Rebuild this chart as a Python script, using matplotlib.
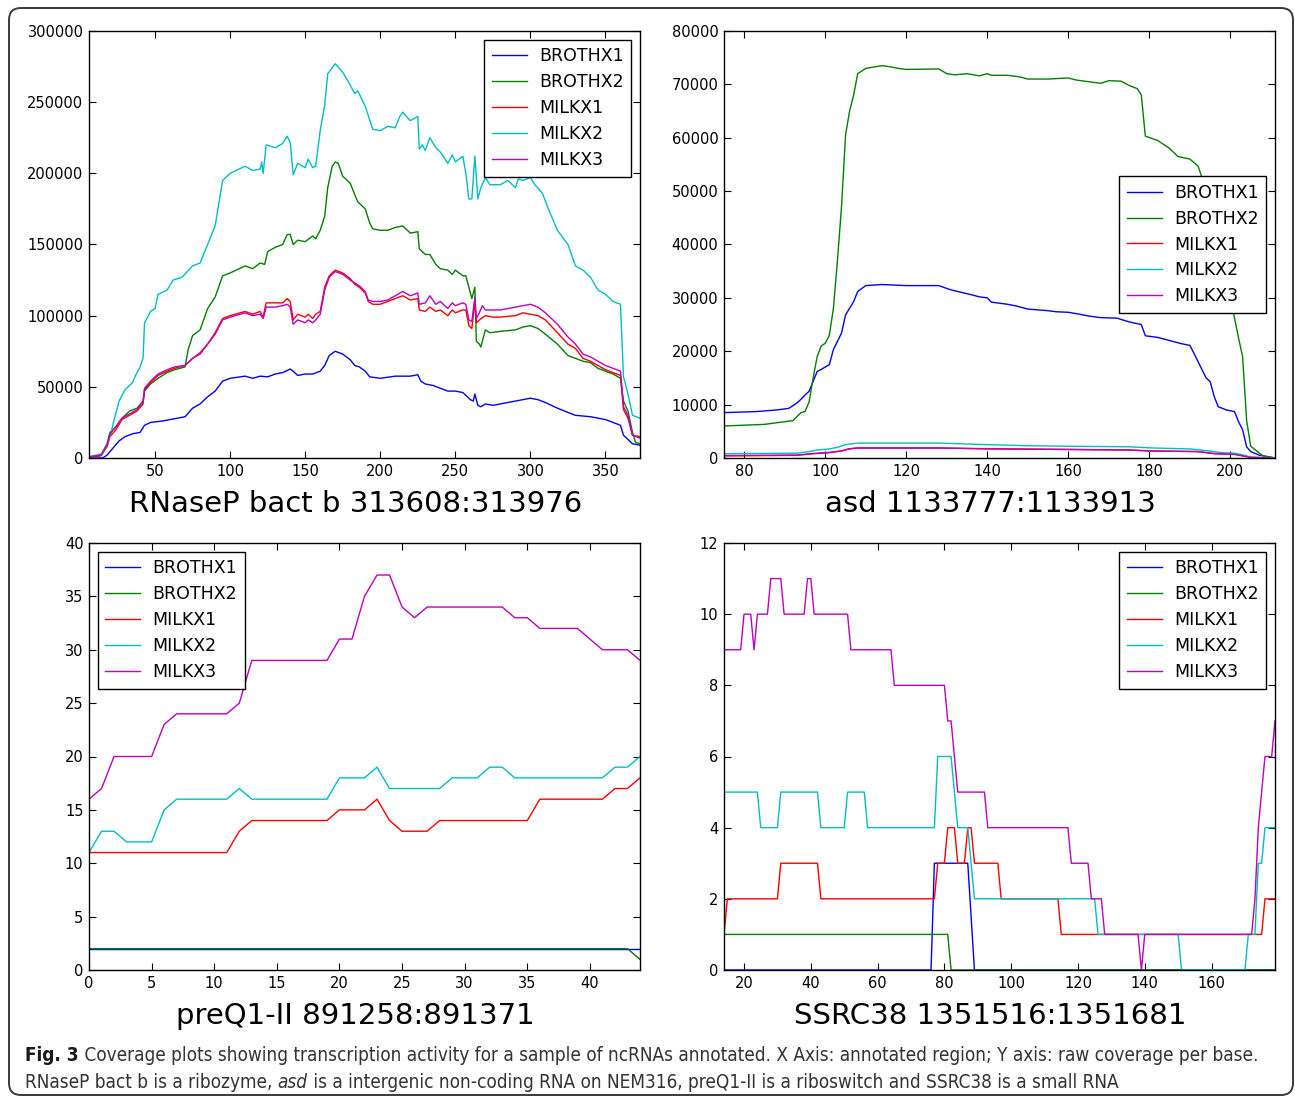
import matplotlib
matplotlib.use("Agg")
import matplotlib.pyplot as plt
from matplotlib import font_manager
from matplotlib.patches import FancyBboxPatch
from matplotlib.transforms import IdentityTransform

W, H, DPI = 1295, 1098, 100

SERIES = ["BROTHX1", "BROTHX2", "MILKX1", "MILKX2", "MILKX3"]
COLORS = ["#0000ff", "#008000", "#ff0000", "#00bfbf", "#bf00bf"]

# ---------------- RNaseP bact b 313608:313976 ----------------
rnasep_brothx1_x = [6,15,18,22,26,30,35,40,43,47,55,60,65,70,75,80,85,90,95,100,110,115,120,125,130,135,140,142,145,150,
                    155,160,163,166,170,175,180,183,186,190,193,200,210,220,225,227,230,235,240,245,250,255,258,260,262,263,
                    265,267,270,275,280,290,295,300,305,310,318,325,330,340,350,355,360,362,365,368,373]
rnasep_brothx1_y = [0,0,2000,7000,12000,15000,17000,18000,23000,25000,26000,27000,28000,29000,35000,38000,43000,47000,54000,56000,
                    57500,56000,57500,57000,59000,60000,62500,61000,58000,59000,59000,61000,65000,72000,75000,73000,69000,65000,64000,61000,
                    57000,56000,57500,57500,58500,54000,52000,51000,49000,47000,47000,46000,43000,41000,40000,45000,37000,36000,38000,37000,
                    38000,40000,41000,42000,41000,39000,35000,32000,30000,29000,27000,25000,23000,16000,13000,10000,9000]
rnasep_brothx2_x = [6,14,18,20,24,28,33,38,42,43,47,52,58,63,70,72,75,80,85,90,95,100,110,115,120,123,125,130,135,138,
                    140,142,145,150,155,157,160,163,165,168,170,172,175,180,183,185,190,193,195,200,205,210,215,220,225,226,230,233,237,240,
                    245,248,250,255,257,259,261,263,264,266,267,270,273,280,290,295,300,305,310,318,325,330,335,340,345,350,355,360,362,365,
                    368,370,373]
rnasep_brothx2_y = [500,2000,10000,18000,22000,28000,33000,35000,40000,47000,52000,56000,60000,62000,64000,76000,86000,90000,105000,113000,
                    128000,130000,135000,133000,137000,136000,145000,148000,150000,157000,157000,150000,153000,152000,156000,154000,160000,170000,190000,205000,
                    208000,207000,198000,193000,185000,180000,175000,165000,161000,160000,160000,162000,163000,158000,159000,147000,143000,143000,136000,133000,
                    132000,129000,132000,128000,128000,120000,112000,120000,82000,80000,78000,90000,88000,89000,90000,92000,93000,91000,87000,80000,
                    72000,70000,68000,67000,63000,61000,59000,56000,40000,33000,18000,11000,10000]
rnasep_milkx1_x = [6,14,18,20,24,28,33,38,42,43,47,52,58,63,70,75,80,85,90,95,100,110,115,120,122,124,130,135,138,140,
                   142,145,150,152,155,157,160,163,166,170,175,180,183,186,190,192,195,200,205,210,215,220,225,226,230,233,237,240,245,248,
                   250,255,257,259,261,263,264,266,270,275,280,290,295,300,305,310,318,325,330,335,340,345,350,355,360,362,365,368,373]
rnasep_milkx1_y = [500,1500,8000,15000,20000,27000,30000,33000,38000,48000,53000,58000,61000,63000,65000,70000,74000,80000,88000,98000,
                   100000,103000,101000,103000,99000,109000,109000,109000,112000,110000,97000,101000,99000,101000,98000,101000,103000,120000,128000,132000,
                   130000,126000,122000,120000,116000,110000,108000,108000,110000,112000,114000,111000,112000,104000,103000,106000,103000,104000,100000,104000,
                   102000,104000,104000,93000,91000,110000,95000,97000,100000,99000,99000,100000,102000,101000,100000,97000,88000,80000,77000,70000,
                   68000,65000,62000,60000,58000,34000,28000,16000,15000]
rnasep_milkx2_x = [6,15,20,23,26,30,35,37,40,42,43,47,50,52,58,62,68,75,80,85,90,95,100,110,115,120,121,122,124,130,
                   135,138,140,142,145,150,152,155,157,160,163,165,170,175,180,183,185,190,195,200,205,210,213,215,220,225,226,228,230,233,
                   237,240,245,248,250,255,257,259,261,263,265,267,270,273,280,285,290,292,295,300,303,308,312,318,325,330,335,340,345,350,
                   355,360,362,365,368,373]
rnasep_milkx2_y = [1000,3000,15000,28000,40000,48000,53000,58000,64000,70000,95000,103000,105000,115000,118000,125000,127000,135000,137000,150000,
                   163000,195000,200000,205000,202000,203000,208000,200000,220000,218000,221000,226000,222000,199000,207000,204000,210000,204000,205000,230000,
                   248000,270000,277000,271000,262000,256000,258000,247000,231000,230000,233000,232000,240000,243000,237000,240000,217000,220000,216000,225000,
                   218000,215000,207000,213000,208000,212000,200000,182000,182000,212000,182000,190000,197000,192000,192000,195000,190000,196000,195000,197000,
                   192000,186000,175000,160000,150000,135000,132000,127000,118000,115000,110000,108000,57000,45000,30000,28000]
rnasep_milkx3_x = [6,14,18,20,24,28,33,38,42,43,47,52,58,63,70,75,80,85,90,95,100,110,115,120,122,124,130,135,138,140,
                   142,145,150,152,155,157,160,163,166,170,175,180,183,186,190,192,195,200,205,210,215,220,225,226,230,233,237,240,245,248,
                   250,255,257,259,261,263,264,266,268,270,280,290,295,300,305,310,318,325,330,335,340,345,350,355,360,362,365,368,373]
rnasep_milkx3_y = [800,2000,9000,17000,22000,28000,31000,34000,39000,49000,54000,59000,62000,64000,65000,70000,73000,80000,87000,97000,
                   99000,102000,100000,101000,98000,106000,106000,107000,108000,106000,94000,97000,95000,97000,95000,97000,101000,118000,127000,131000,
                   129000,125000,123000,121000,117000,111000,110000,110000,111000,114000,117000,114000,116000,108000,109000,114000,108000,110000,105000,109000,
                   107000,109000,108000,97000,96000,113000,98000,102000,107000,104000,104000,106000,107000,108000,106000,102000,94000,85000,80000,73000,
                   71000,68000,65000,63000,61000,36000,30000,16000,14000]

# ---------------- asd 1133777:1133913 ----------------
asd_brothx1_x = [75,83,88,91,93,94,95,96,98,99,101,102,104,105,107,108,110,114,120,128,131,136,138,140,141,145,147,150,155,157,
                 160,163,165,168,172,175,178,179,182,185,188,190,191,194,195,196,197,199,201,202,203,204,205,207,211]
asd_brothx1_y = [8500,8700,9000,9300,10300,11000,11800,12500,16200,16600,17500,20300,23400,26800,29300,31200,32300,32500,32300,32300,
                 31500,30600,30200,30000,29200,28800,28500,27900,27600,27400,27300,26900,26600,26300,26200,25500,25000,22900,22600,22000,
                 21400,21100,19600,15000,14300,11500,9600,9000,8700,6800,5300,2100,1200,560,0]
asd_brothx2_x = [75,85,92,94,95,96,97,98,99,100,101,102,103,104,105,106,107,108,110,114,116,118,120,128,130,132,135,138,140,141,
                 145,148,150,155,160,162,165,168,170,173,175,177,178,179,182,184,185,187,190,192,193,195,198,200,202,203,204,205,208,211]
asd_brothx2_y = [6000,6300,7000,8500,8700,10500,15000,19000,21000,21500,23000,28000,37000,47000,60500,65000,68000,72000,73000,73500,
                 73300,73000,72800,72900,72000,71800,72000,71600,72000,71700,71700,71400,71000,71000,71200,70800,70500,70200,70700,70600,
                 69800,69200,68000,60300,59500,58500,58000,56500,56000,54700,52500,48000,38000,30000,22500,19000,7000,2200,400,0]
asd_milkx1_x = [75,93,97,101,104,106,108,128,140,160,175,180,192,196,201,203,205,211]
asd_milkx1_y = [400,500,800,1000,1300,1700,1900,1900,1700,1600,1500,1300,1200,800,700,400,100,0]
asd_milkx2_x = [75,93,96,98,101,103,105,108,128,140,150,160,175,180,190,195,198,201,203,205,211]
asd_milkx2_y = [800,900,1200,1500,1700,2000,2500,2800,2800,2500,2300,2200,2100,1900,1700,1300,1000,900,600,200,0]
asd_milkx3_x = [75,93,97,101,104,106,108,128,140,160,175,180,192,196,201,203,205,211]
asd_milkx3_y = [450,550,850,1050,1350,1750,1850,1850,1750,1600,1500,1350,1200,850,700,400,100,0]

# ---------------- preQ1-II 891258:891371 ----------------
preq_x = list(range(45))
preq_brothx1 = [2,2,2,2,2,2,2,2,2,2,2,2,2,2,2,2,2,2,2,2,2,2,2,2,2,2,2,2,2,2,2,2,2,2,2,2,2,2,2,2,2,2,2,2,2]
preq_brothx2 = [2,2,2,2,2,2,2,2,2,2,2,2,2,2,2,2,2,2,2,2,2,2,2,2,2,2,2,2,2,2,2,2,2,2,2,2,2,2,2,2,2,2,2,2,1]
preq_milkx1 = [11,11,11,11,11,11,11,11,11,11,11,11,13,14,14,14,14,14,14,14,15,15,15,16,14,13,13,13,14,14,
               14,14,14,14,14,14,16,16,16,16,16,16,17,17,18]
preq_milkx2 = [11,13,13,12,12,12,15,16,16,16,16,16,17,16,16,16,16,16,16,16,18,18,18,19,17,17,17,17,17,18,
               18,18,19,19,18,18,18,18,18,18,18,18,19,19,20]
preq_milkx3 = [16,17,20,20,20,20,23,24,24,24,24,24,25,29,29,29,29,29,29,29,31,31,35,37,37,34,33,34,34,34,
               34,34,34,34,33,33,32,32,32,32,31,30,30,30,29]

# ---------------- SSRC38 1351516:1351681 ----------------
ssrc_brothx1_x = [14,76,77,87,89,179]
ssrc_brothx1_y = [0,0,3,3,0,0]
ssrc_brothx2_x = [14,81,82,179]
ssrc_brothx2_y = [1,1,0,0]
ssrc_milkx1_x = [14,15,30,31,42,43,77,78,80,81,83,84,86,87,88,89,96,97,114,115,175,176,179]
ssrc_milkx1_y = [1,2,2,3,3,2,2,3,3,4,4,3,3,4,4,3,3,2,2,1,1,2,2]
ssrc_milkx2_x = [14,24,25,30,31,42,43,50,51,56,57,77,78,82,84,87,89,125,126,150,151,170,171,173,174,175,176,179]
ssrc_milkx2_y = [5,5,4,4,5,5,4,4,5,5,4,4,6,6,4,4,2,2,1,1,0,0,1,1,3,3,4,4]
ssrc_milkx3_x = [14,19,20,22,23,24,27,28,31,32,38,39,40,41,51,52,64,65,80,81,82,84,92,93,117,118,123,124,127,128,
                 138,139,140,172,173,174,176,178,179]
ssrc_milkx3_y = [9,9,10,10,9,10,10,11,11,10,10,11,11,10,10,9,9,8,8,7,7,5,5,4,4,3,3,2,2,1,1,0,1,1,2,4,6,6,7]

panel_titles = ["RNaseP bact b 313608:313976", "asd 1133777:1133913",
                "preQ1-II 891258:891371", "SSRC38 1351516:1351681"]

caption_bold = "Fig. 3"
caption_line1 = (" Coverage plots showing transcription activity for a sample of ncRNAs annotated. "
                 "X Axis: annotated region; Y axis: raw coverage per base.")
caption_line2a = "RNaseP bact b is a ribozyme, "
caption_line2b = "asd"
caption_line2c = " is a intergenic non-coding RNA on NEM316, preQ1-II is a riboswitch and SSRC38 is a small RNA"

panels = [
    dict(rect=(89, 31, 640, 458),
         series=[(rnasep_brothx1_x, rnasep_brothx1_y), (rnasep_brothx2_x, rnasep_brothx2_y),
                 (rnasep_milkx1_x, rnasep_milkx1_y), (rnasep_milkx2_x, rnasep_milkx2_y),
                 (rnasep_milkx3_x, rnasep_milkx3_y)],
         xlim=(6, 373), ylim=(0, 300000), xticks=[50, 100, 150, 200, 250, 300, 350],
         yticks=[0, 50000, 100000, 150000, 200000, 250000, 300000], loc="upper right"),
    dict(rect=(724, 31, 1275, 458),
         series=[(asd_brothx1_x, asd_brothx1_y), (asd_brothx2_x, asd_brothx2_y),
                 (asd_milkx1_x, asd_milkx1_y), (asd_milkx2_x, asd_milkx2_y),
                 (asd_milkx3_x, asd_milkx3_y)],
         xlim=(75, 211), ylim=(0, 80000), xticks=[80, 100, 120, 140, 160, 180, 200],
         yticks=[0, 10000, 20000, 30000, 40000, 50000, 60000, 70000, 80000], loc="center right"),
    dict(rect=(89, 543, 640, 970),
         series=[(preq_x, preq_brothx1), (preq_x, preq_brothx2), (preq_x, preq_milkx1),
                 (preq_x, preq_milkx2), (preq_x, preq_milkx3)],
         xlim=(0, 44), ylim=(0, 40), xticks=[0, 5, 10, 15, 20, 25, 30, 35, 40],
         yticks=[0, 5, 10, 15, 20, 25, 30, 35, 40], loc="upper left"),
    dict(rect=(724, 543, 1275, 970),
         series=[(ssrc_brothx1_x, ssrc_brothx1_y), (ssrc_brothx2_x, ssrc_brothx2_y),
                 (ssrc_milkx1_x, ssrc_milkx1_y), (ssrc_milkx2_x, ssrc_milkx2_y),
                 (ssrc_milkx3_x, ssrc_milkx3_y)],
         xlim=(14, 179), ylim=(0, 12), xticks=[20, 40, 60, 80, 100, 120, 140, 160],
         yticks=[0, 2, 4, 6, 8, 10, 12], loc="upper right"),
]

plt.rcParams["font.family"] = ["DejaVu Sans"]

fig = plt.figure(figsize=(W / DPI, H / DPI), dpi=DPI)
fig.patch.set_facecolor("white")

# rounded outer frame
frame = FancyBboxPatch((9, 3), 1284, 1087, boxstyle="round,pad=0,rounding_size=12",
                       transform=IdentityTransform(), facecolor="none",
                       edgecolor="#3a3a3a", linewidth=1.4, zorder=0)
fig.patches.append(frame)

for p, title in zip(panels, panel_titles):
    l, t, r, b = p["rect"]
    ax = fig.add_axes([l / W, 1 - b / H, (r - l) / W, (b - t) / H])
    for (xs, ys), name, col in zip(p["series"], SERIES, COLORS):
        ax.plot(xs, ys, color=col, lw=1.0, label=name)
    ax.set_xlim(*p["xlim"])
    ax.set_ylim(*p["ylim"])
    ax.set_xticks(p["xticks"])
    ax.set_yticks(p["yticks"])
    ax.ticklabel_format(style="plain", useOffset=False)
    ax.tick_params(direction="in", length=5, width=0.8, top=True, right=True,
                   labelsize=10.5, pad=4, colors="black")
    for s in ax.spines.values():
        s.set_linewidth(1.0)
        s.set_color("black")
    leg = ax.legend(loc=p["loc"], fontsize=12.5, fancybox=False, framealpha=1,
                    edgecolor="black", handlelength=2.0, handletextpad=0.7,
                    borderpad=0.45, labelspacing=0.45, borderaxespad=0.5)
    leg.get_frame().set_linewidth(1.0)
    ax.text(0.5 - 9.0 / (r - l), -54 / (b - t), title, transform=ax.transAxes, ha="center",
            va="baseline", fontsize=21, color="black")

# caption with mixed styles
avail = {f.name for f in font_manager.fontManager.ttflist}
if "Liberation Sans Narrow" in avail:
    cap_family, cap_stretch = "Liberation Sans Narrow", "normal"
else:
    cap_family, cap_stretch = "DejaVu Sans", "condensed"
renderer = fig.canvas.get_renderer()


def put_line(pieces, x0, y_base, size):
    x = x0
    for txt, weight, style, col in pieces:
        t = fig.text(x / W, 1 - y_base / H, txt, fontsize=size, fontweight=weight,
                     fontstyle=style, fontstretch=cap_stretch, color=col,
                     family=[cap_family, "DejaVu Sans"], ha="left", va="baseline")
        x += t.get_window_extent(renderer).width
    return x


line1 = [(caption_bold, "bold", "normal", "#1a1a1a"), (caption_line1, "normal", "normal", "#333333")]
line2 = [(caption_line2a, "normal", "normal", "#333333"), (caption_line2b, "normal", "italic", "#333333"),
         (caption_line2c, "normal", "normal", "#333333")]

# measure line 1 at a trial size, then fit to the reference width
trial = 12.0
tmp = [fig.text(0, 0, s, fontsize=trial, fontweight=w, fontstyle=st, fontstretch=cap_stretch,
                family=[cap_family, "DejaVu Sans"]) for s, w, st, c in line1]
wsum = sum(tt.get_window_extent(renderer).width for tt in tmp)
for tt in tmp:
    tt.remove()
cap_size = trial * (1233.0 / wsum)

put_line(line1, 25, 1061, cap_size)
put_line(line2, 25, 1088, cap_size)

fig.savefig("out.png", dpi=DPI, facecolor="white")
